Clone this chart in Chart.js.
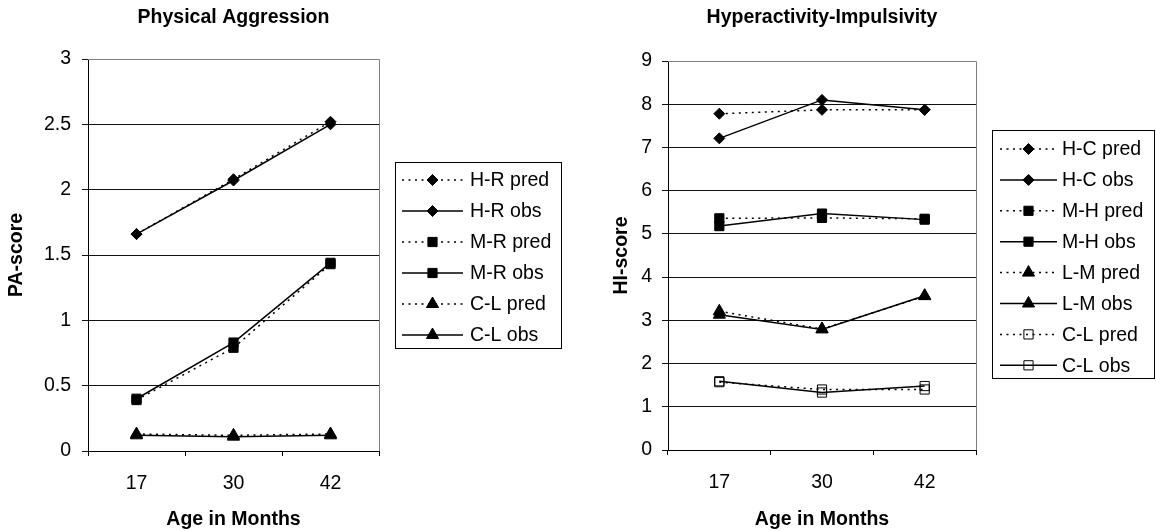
<!DOCTYPE html>
<html><head><meta charset="utf-8">
<script src="https://cdn.jsdelivr.net/npm/chart.js@4.4.0/dist/chart.umd.min.js"></script>
<style>
html,body{margin:0;padding:0;background:#fff;width:1156px;height:531px;overflow:hidden}
#c1{position:absolute;left:0;top:0}
#c2{position:absolute;left:578px;top:0}
</style></head><body>
<canvas id="c1" width="578" height="531"></canvas>
<canvas id="c2" width="578" height="531"></canvas>
<script>
// ---- data ----
const ageLabels = ['17', '30', '42'];

const paHRpred = [1.66, 2.08, 2.52];
const paHRobs  = [1.66, 2.07, 2.50];
const paMRpred = [0.39, 0.79, 1.43];
const paMRobs  = [0.40, 0.83, 1.44];
const paCLpred = [0.13, 0.12, 0.13];
const paCLobs  = [0.12, 0.11, 0.12];

const hiHCpred = [7.78, 7.87, 7.87];
const hiHCobs  = [7.21, 8.10, 7.87];
const hiMHpred = [5.36, 5.37, 5.35];
const hiMHobs  = [5.18, 5.47, 5.33];
const hiLMpred = [3.21, 2.80, 3.56];
const hiLMobs  = [3.13, 2.79, 3.57];
const hiCLpred = [1.57, 1.40, 1.40];
const hiCLobs  = [1.59, 1.33, 1.48];

const paNames = ['H-R pred', 'H-R obs', 'M-R pred', 'M-R obs', 'C-L pred', 'C-L obs'];
const hiNames = ['H-C pred', 'H-C obs', 'M-H pred', 'M-H obs', 'L-M pred', 'L-M obs', 'C-L pred', 'C-L obs'];

const paYTicks = { min: 0, max: 3, step: 0.5 };
const hiYTicks = { min: 0, max: 9, step: 1 };

// ---- styling ----
const FONT = "'Liberation Sans', Arial, Helvetica, sans-serif";
const FS = 19.5;
Chart.defaults.font.family = FONT;
Chart.defaults.color = '#000';

const DOT = [2, 4.5];
function series(label, data, style, dotted, hollow) {
  const r = style === 'rectRot' ? 5.5 : (style === 'triangle' ? 7 : 6.5);
  return {
    label, data,
    borderColor: '#000', borderWidth: 1.5,
    borderDash: dotted ? DOT : [],
    pointStyle: style, pointRadius: r, pointHoverRadius: r,
    pointBackgroundColor: hollow ? 'rgba(0,0,0,0)' : '#000',
    pointBorderColor: '#000', pointBorderWidth: 1,
    tension: 0, fill: false,
    _hollow: !!hollow
  };
}

function drawMarker(ctx, style, x, y, r, hollow) {
  ctx.save();
  ctx.setLineDash([]);
  ctx.lineWidth = 1;
  ctx.strokeStyle = '#000';
  ctx.fillStyle = '#000';
  ctx.beginPath();
  if (style === 'rectRot') {
    ctx.moveTo(x - r, y); ctx.lineTo(x, y - r); ctx.lineTo(x + r, y); ctx.lineTo(x, y + r); ctx.closePath();
  } else if (style === 'rect') {
    const s = Math.SQRT1_2 * r;
    ctx.rect(x - s, y - s, 2 * s, 2 * s);
  } else if (style === 'triangle') {
    ctx.moveTo(x, y - r);
    ctx.lineTo(x + 0.866 * r, y + 0.5 * r);
    ctx.lineTo(x - 0.866 * r, y + 0.5 * r);
    ctx.closePath();
  }
  if (!hollow) ctx.fill();
  ctx.stroke();
  ctx.restore();
}

const boxLegend = {
  id: 'boxLegend',
  afterDraw(chart, args, o) {
    const ctx = chart.ctx;
    const ca = chart.chartArea;
    // plot-area frame (top & right, gray)
    ctx.save();
    ctx.strokeStyle = '#808080';
    ctx.lineWidth = 1;
    ctx.beginPath();
    const t = Math.round(ca.top) + 0.5, r = Math.round(ca.right) + 0.5;
    ctx.moveTo(ca.left, t); ctx.lineTo(r, t); ctx.lineTo(r, ca.bottom);
    ctx.stroke();
    // legend box
    ctx.strokeStyle = '#000';
    ctx.strokeRect(o.x + 0.5, o.y + 0.5, o.w, o.h);
    ctx.font = FS + 'px ' + FONT;
    ctx.textBaseline = 'middle';
    ctx.textAlign = 'left';
    ctx.fillStyle = '#000';
    chart.data.datasets.forEach((ds, i) => {
      const y = o.row0 + i * o.step;
      ctx.save();
      ctx.strokeStyle = '#000';
      ctx.lineWidth = 1.5;
      ctx.setLineDash(ds.borderDash || []);
      ctx.beginPath();
      ctx.moveTo(o.lx1, y); ctx.lineTo(o.lx2, y);
      ctx.stroke();
      ctx.restore();
      drawMarker(ctx, ds.pointStyle, (o.lx1 + o.lx2) / 2, y, ds.pointRadius, ds._hollow);
      ctx.fillText(ds.label, o.tx, y + 1);
    });
    ctx.restore();
  }
};

function makeOptions(c) {
  return {
    responsive: false, animation: false, devicePixelRatio: 1, events: [],
    layout: { padding: { left: 0, right: c.padRight, top: 0, bottom: 0 } },
    plugins: {
      legend: { display: false },
      tooltip: { enabled: false },
      title: {
        display: true, fullSize: false, text: c.title, color: '#000',
        font: { size: FS, weight: 'bold', family: FONT, lineHeight: 1.2 },
        padding: { top: 6.3, bottom: c.titleBottom }
      },
      boxLegend: c.legend
    },
    scales: {
      x: {
        type: 'category', offset: true,
        grid: { display: true, offset: true, drawOnChartArea: false, drawTicks: true, tickLength: 5, color: '#000', lineWidth: 1 },
        border: { display: true, color: '#000', width: 1 },
        ticks: { font: { size: FS, family: FONT }, padding: 15.5, color: '#000', maxRotation: 0 },
        title: { display: true, text: 'Age in Months', color: '#000', font: { size: FS, weight: 'bold', family: FONT, lineHeight: 1.2 }, padding: { top: 0, bottom: 0 } },
        afterFit: s => { s.height = c.xHeight; }
      },
      y: {
        min: c.yt.min, max: c.yt.max,
        grid: { color: '#111', lineWidth: 1, drawTicks: true, tickLength: 6 },
        border: { display: true, color: '#000', width: 1 },
        ticks: {
          stepSize: c.yt.step, font: { size: FS, family: FONT }, padding: c.yTickPad, color: '#000',
          callback: v => String(Math.round(v * 100) / 100)
        },
        title: { display: true, text: c.yTitle, color: '#000', font: { size: FS, weight: 'bold', family: FONT, lineHeight: 1.2 }, padding: { top: c.yTitlePad, bottom: 0 } },
        afterFit: s => { s.width = c.yWidth; }
      }
    }
  };
}

new Chart(document.getElementById('c1'), {
  type: 'line',
  data: {
    labels: ageLabels,
    datasets: [
      series(paNames[0], paHRpred, 'rectRot', true),
      series(paNames[1], paHRobs, 'rectRot', false),
      series(paNames[2], paMRpred, 'rect', true),
      series(paNames[3], paMRobs, 'rect', false),
      series(paNames[4], paCLpred, 'triangle', true),
      series(paNames[5], paCLobs, 'triangle', false)
    ]
  },
  options: makeOptions({
    title: 'Physical Aggression', yTitle: 'PA-score', yt: paYTicks,
    padRight: 199, titleBottom: 29.3, xHeight: 80, yWidth: 88, yTickPad: 11, yTitlePad: 5.3,
    legend: { x: 395, y: 162, w: 166, h: 186, row0: 180, step: 31, lx1: 402, lx2: 463, tx: 470 }
  }),
  plugins: [boxLegend]
});

new Chart(document.getElementById('c2'), {
  type: 'line',
  data: {
    labels: ageLabels,
    datasets: [
      series(hiNames[0], hiHCpred, 'rectRot', true),
      series(hiNames[1], hiHCobs, 'rectRot', false),
      series(hiNames[2], hiMHpred, 'rect', true),
      series(hiNames[3], hiMHobs, 'rect', false),
      series(hiNames[4], hiLMpred, 'triangle', true),
      series(hiNames[5], hiLMobs, 'triangle', false),
      series(hiNames[6], hiCLpred, 'rect', true, true),
      series(hiNames[7], hiCLobs, 'rect', false, true)
    ]
  },
  options: makeOptions({
    title: 'Hyperactivity-Impulsivity', yTitle: 'HI-score', yt: hiYTicks,
    padRight: 180, titleBottom: 31.3, xHeight: 81, yWidth: 90, yTickPad: 10, yTitlePad: 32.3,
    legend: { x: 414, y: 130, w: 162, h: 248, row0: 149, step: 30.9, lx1: 422, lx2: 479, tx: 484 }
  }),
  plugins: [boxLegend]
});
</script>
</body></html>
